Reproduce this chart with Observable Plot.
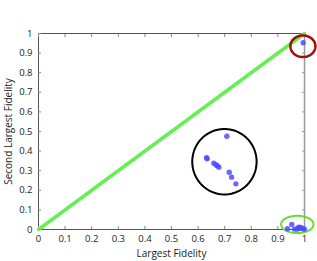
<!DOCTYPE html>
<html><head><meta charset="utf-8">
<script src="https://cdn.jsdelivr.net/npm/d3@7"></script>
<script src="https://cdn.jsdelivr.net/npm/@observablehq/plot@0.6"></script>
<style>
html,body{margin:0;padding:0;background:#fff;}
</style>
</head><body>
<div id="chart"></div>
<script>
const tickValues = [0,0.1,0.2,0.3,0.4,0.5,0.6,0.7,0.8,0.9,1];
const tickLabels = ["0","0.1","0.2","0.3","0.4","0.5","0.6","0.7","0.8","0.9","1"];
const largest = [0.995, 0.708, 0.632, 0.634, 0.659, 0.667, 0.672, 0.678, 0.717, 0.726, 0.742,
  0.936, 0.952, 0.962, 0.970, 0.975, 0.978, 0.980, 0.985, 0.990, 0.995, 1.0];
const secondLargest = [0.953, 0.476, 0.366, 0.361, 0.338, 0.330, 0.325, 0.318, 0.292, 0.267, 0.233,
  0.004, 0.026, 0.002, 0.003, 0.003, 0.012, 0.008, 0.010, 0.006, 0.003, 0.002];
const diagonalX = [0, 1];
const diagonalY = [0, 1];
// annotation ellipses (data units)
const ellCx = [0.699, 0.994, 0.973];
const ellCy = [0.346, 0.935, 0.026];
const ellRx = [0.121, 0.047, 0.061];
const ellRy = [0.167, 0.055, 0.044];
const ellColor = ["#000000", "#a00d0d", "#66dd33"];
const ellWidth = [2, 2.5, 2];

const points = largest.map((x, i) => ({x, y: secondLargest[i]}));
const diag = diagonalX.map((x, i) => ({x, y: diagonalY[i]}));
const angles = d3.range(0, 361, 4).map(a => a * Math.PI / 180);
const ellipses = ellCx.map((cx, k) => angles.map(t => ({
  k, x: cx + ellRx[k] * Math.cos(t), y: ellCy[k] + ellRy[k] * Math.sin(t)
})));
const fmt = d => tickLabels[tickValues.indexOf(d)];

const font = "'Open Sans', sans-serif";
const chart = Plot.plot({
  width: 317, height: 261,
  marginLeft: 38, marginRight: 13, marginTop: 33, marginBottom: 32,
  style: {fontFamily: font, fontSize: "9.5px", color: "#222", background: "#fff", overflow: "visible"},
  x: {domain: [0, 1]},
  y: {domain: [0, 1]},
  marks: [
    Plot.frame({stroke: "#555", strokeWidth: 1}),
    Plot.ruleX([1], {stroke: "#999", strokeWidth: 1.5}),
    Plot.axisX({anchor: "bottom", ticks: tickValues, tickFormat: fmt, tickSize: -3, tickPadding: 9, stroke: "#888", label: null}),
    Plot.axisX({anchor: "top", ticks: tickValues, tickFormat: null, text: null, tickSize: -3, stroke: "#888", label: null}),
    Plot.axisY({anchor: "left", ticks: tickValues, tickFormat: fmt, tickSize: -3, tickPadding: 9, stroke: "#888", label: null}),
    Plot.axisY({anchor: "right", ticks: tickValues, tickFormat: null, text: null, tickSize: -3, stroke: "#999", label: null}),
    Plot.text(["Largest Fidelity"], {frameAnchor: "bottom", dy: 27, fontSize: 10, fill: "#222"}),
    Plot.text(["Second Largest Fidelity"], {frameAnchor: "left", textAnchor: "middle", dx: -30, rotate: -90, fontSize: 10, fill: "#222"}),
    Plot.line(diag, {x: "x", y: "y", stroke: "#66ee55", strokeWidth: 3.5}),
    ...ellipses.map((e, k) => Plot.line(e, {x: "x", y: "y", stroke: ellColor[k], strokeWidth: ellWidth[k], curve: "linear"})),
    Plot.dot(points, {x: "x", y: "y", r: 2.7, fill: "#4d4dff", fillOpacity: 0.85, stroke: "none"})
  ]
});
document.getElementById("chart").appendChild(chart);
</script>
</body></html>
